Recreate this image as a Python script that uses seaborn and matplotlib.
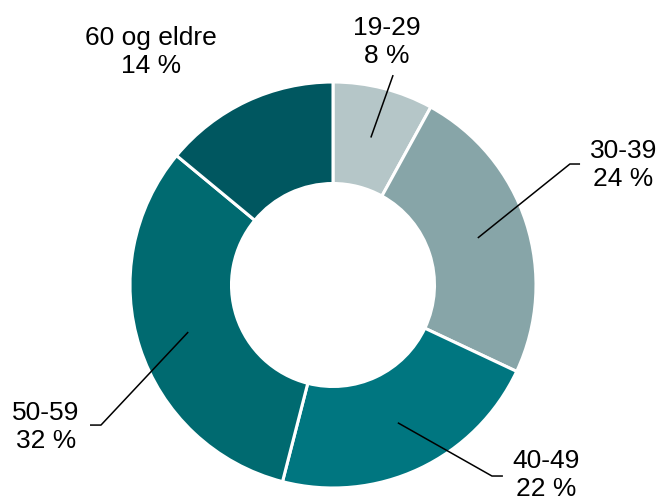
import matplotlib.pyplot as plt
import numpy as np
import seaborn as sns

sns.set_theme(style="white")
plt.rcParams['font.family'] = ['Liberation Sans', 'DejaVu Sans']

# data
groups = ['19-29', '30-39', '40-49', '50-59', '60 og eldre']
shares = [8, 24, 22, 32, 14]
colors = ['#b5c6c8', '#87a5a8', '#007680', '#006a70', '#005760']

# label layout (in pie radius units): text centre, elbow, line end
text_pos = [(0.266, 1.199), (1.43, 0.591), (1.049, -0.935), (-1.414, -0.700), (-0.897, 1.148)]
elbow_pos = [None, (1.167, 0.596), (0.783, -0.941), (-1.143, -0.690), None]
line_end = [(0.296, 1.034), (1.217, 0.596), (0.837, -0.941), (-1.197, -0.690), None]

fig = plt.figure(figsize=(6.58, 5.01), dpi=100)
ax = fig.add_axes([0, 0, 1, 1])
ax.axis('off')

wedges, _ = ax.pie(shares, colors=colors, startangle=90, counterclock=False,
                   radius=1, wedgeprops=dict(width=0.5, edgecolor='white', linewidth=2.2))

for i, w in enumerate(wedges):
    ang = np.deg2rad((w.theta1 + w.theta2) / 2)
    p = (0.75 * np.cos(ang), 0.75 * np.sin(ang))
    if line_end[i] is not None:
        pts = [p]
        if elbow_pos[i] is not None:
            pts.append(elbow_pos[i])
        pts.append(line_end[i])
        xs, ys = zip(*pts)
        ax.plot(xs, ys, color='black', lw=1.1, solid_capstyle='butt')
    ax.text(text_pos[i][0], text_pos[i][1], f'{groups[i]}\n{shares[i]} %',
            ha='center', va='center', multialignment='center', fontsize=19,
            color='black', linespacing=1.2)

s = 203
ax.set_xlim(-333 / s, (658 - 333) / s)
ax.set_ylim(-(501 - 285) / s, 285 / s)
ax.set_aspect('auto')

fig.savefig('out.png', dpi=100, facecolor='white')
